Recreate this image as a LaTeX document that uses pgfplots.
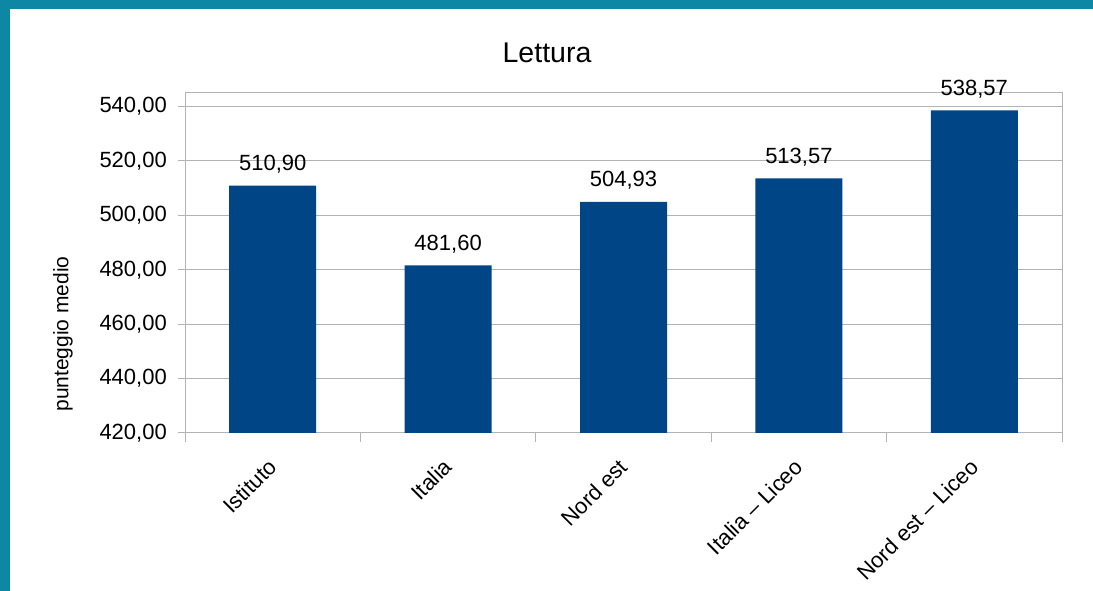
\documentclass[border=0pt]{standalone}
\usepackage{pgfplots}
\pgfplotsset{compat=1.18}
\usepackage{fontspec}
\setmainfont{Liberation Sans}
\definecolor{barblue}{HTML}{004586}
\definecolor{framecol}{HTML}{0E87A4}
\definecolor{gridgray}{HTML}{B3B3B3}
\begin{document}
\begin{tikzpicture}
\useasboundingbox (0pt,0pt) rectangle (1093pt,591pt);
\fill[white] (0pt,0pt) rectangle (1093pt,591pt);
\fill[framecol] (0pt,582pt) rectangle (1093pt,591pt);
\fill[framecol] (0pt,0pt) rectangle (10pt,591pt);
\node[anchor=base, font=\fontsize{28.5}{32}\selectfont] at (547pt,528pt) {Lettura};
\node[rotate=90, font=\fontsize{21}{24}\selectfont] at (63pt,257pt) {punteggio medio};
\begin{axis}[
  at={(185pt,158pt)}, anchor=south west, scale only axis,
  width=877pt, height=340pt,
  ymin=420, ymax=545, ytick={420,440,...,540},
  xmin=-0.5, xmax=4.5, xtick={0,1,2,3,4},
  xticklabels={Istituto, Italia, Nord est, Italia – Liceo, Nord est – Liceo},
  minor xtick={-0.5,0.5,1.5,2.5,3.5,4.5},
  tick pos=left, tick align=outside,
  major tick length=7pt, minor tick length=9pt,
  major x tick style={draw=none},
  minor x tick style={gridgray, line width=1pt},
  major y tick style={gridgray, line width=1pt},
  axis line style={gridgray, line width=1pt},
  ymajorgrids, major grid style={gridgray, line width=1pt},
  yticklabel style={font=\fontsize{22}{26}\selectfont, anchor=east, inner sep=0pt, xshift=-11pt,
    /pgf/number format/.cd, fixed, fixed zerofill, precision=2, use comma, 1000 sep={}, assume math mode=true},
  xticklabel style={font=\fontsize{22}{26}\selectfont, yshift=-23pt, rotate=45, anchor=east, inner sep=0pt},
  clip=false,
  nodes near coords={\pgfmathprintnumber[fixed,fixed zerofill,precision=2,use comma,assume math mode=true]{\pgfplotspointmeta}},
  nodes near coords style={anchor=base, inner sep=0pt, yshift=15pt, font=\fontsize{22}{26}\selectfont, black},
]
\addplot[ybar, bar width=87pt, fill=barblue, draw=none] coordinates {
  (0,510.90) (1,481.60) (2,504.93) (3,513.57) (4,538.57)
};
\end{axis}
\end{tikzpicture}
\end{document}
